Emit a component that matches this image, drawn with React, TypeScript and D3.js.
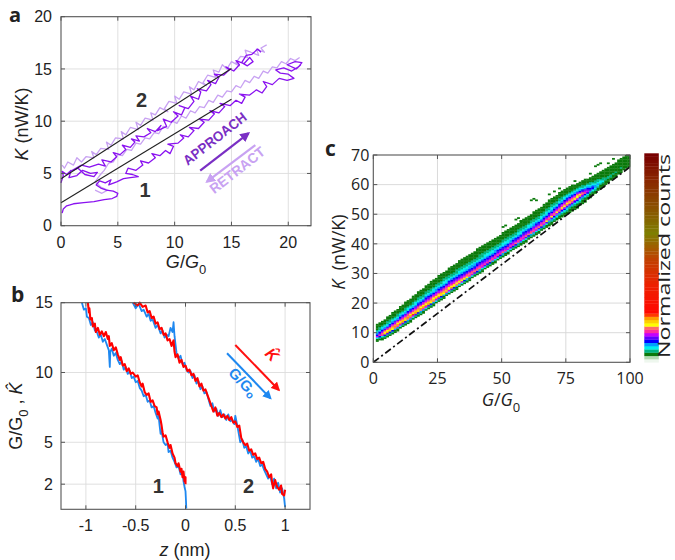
import React, { useRef, useEffect } from 'react';
import * as d3 from 'd3';

type Pt = [number, number];

// ---------- panel a : K vs G/G0, two junctions ----------
const aTicksX = [0, 5, 10, 15, 20];
const aTicksY = [0, 5, 10, 15, 20];
const aFitG = [0, 15];
const aFit1 = [2.2, 12.1];
const aFit2 = [4.5, 15.05];

const a2Approach: Pt[] = [
  [0.0, 4.1], [0.2, 4.8], [0.1, 5.2], [0.5, 4.9], [0.9, 5.3], [0.7, 4.6], [1.4, 4.8], [1.9, 5.3],
  [2.6, 5.0], [3.2, 5.1], [2.9, 4.7], [2.1, 4.9], [1.5, 5.5], [1.0, 5.3], [1.8, 5.8], [2.5, 5.6],
  [3.3, 5.9], [3.9, 5.7], [3.6, 6.3], [4.4, 6.1], [4.9, 6.6], [4.6, 7.0], [5.2, 6.8], [5.7, 7.3],
  [5.4, 7.7], [6.1, 7.5], [6.5, 8.0], [6.2, 8.3], [6.9, 8.1], [6.6, 8.6], [7.3, 8.5], [7.9, 8.9],
  [7.6, 9.3], [8.3, 9.0], [8.8, 9.6], [8.5, 9.1], [9.3, 9.5], [9.0, 10.2], [9.7, 9.9], [10.3, 10.5],
  [9.9, 10.9], [10.6, 10.6], [10.9, 11.3], [10.4, 11.5], [11.2, 11.2], [11.7, 11.9], [11.4, 12.4],
  [12.1, 12.1], [12.3, 12.8], [12.0, 13.1], [12.8, 12.9], [13.2, 13.5], [12.9, 13.9], [13.6, 13.6],
  [13.9, 14.2], [13.5, 14.5], [14.3, 14.4], [14.8, 14.9], [14.5, 15.2], [15.2, 14.8], [15.7, 15.4],
  [15.4, 15.8], [16.1, 15.5], [16.6, 16.1], [16.9, 15.7], [16.4, 15.3], [15.9, 15.6], [16.3, 16.3],
  [16.8, 16.4], [17.3, 16.9], [17.6, 16.6],
];
const a2Retract: Pt[] = [
  [18.1, 17.3], [17.6, 17.0], [17.9, 16.6], [17.2, 16.9], [17.4, 16.3], [16.7, 16.6], [16.2, 16.8],
  [16.4, 16.1], [15.8, 16.2], [15.4, 15.6], [15.7, 15.3], [15.0, 15.7], [14.6, 15.0], [14.2, 15.4],
  [13.9, 14.7], [13.4, 14.9], [13.6, 14.2], [12.9, 14.4], [12.5, 13.7], [12.8, 13.4], [12.1, 13.8],
  [11.7, 13.0], [11.3, 13.3], [11.5, 12.6], [10.8, 12.8], [10.4, 12.1], [10.0, 12.4], [10.2, 11.7],
  [9.5, 11.9], [9.1, 11.2], [9.4, 10.9], [8.7, 11.3], [8.3, 10.6], [7.9, 10.8], [8.1, 10.1],
  [7.4, 10.3], [7.0, 9.6], [6.6, 9.9], [6.8, 9.2], [6.1, 9.4], [5.7, 8.7], [5.3, 9.0], [5.5, 8.3],
  [4.8, 8.4], [4.4, 7.7], [4.0, 8.0], [4.2, 7.3], [3.5, 7.4], [3.1, 6.8], [2.7, 7.1], [2.9, 6.5],
  [2.2, 6.6], [1.8, 6.1], [1.4, 6.5], [1.1, 5.8], [0.6, 6.1], [0.3, 5.5], [0.1, 5.8],
];
const a1Approach: Pt[] = [
  [0.1, 1.2], [0.2, 1.6], [0.5, 1.9], [1.1, 2.1], [2.0, 2.2], [2.9, 2.3], [3.8, 2.5], [4.5, 2.6],
  [4.9, 2.8], [5.0, 3.1], [4.6, 3.3], [4.0, 3.4], [3.5, 3.6], [3.1, 3.9], [3.4, 4.3], [3.9, 4.1],
  [4.4, 4.4], [4.2, 3.9], [4.9, 4.2], [5.5, 4.5], [6.1, 4.6], [6.8, 4.7], [6.3, 4.9], [5.7, 5.0],
  [5.9, 5.5], [6.6, 5.3], [7.2, 5.8], [7.0, 6.2], [7.7, 6.0], [8.3, 6.5], [8.0, 6.9], [8.7, 6.7],
  [9.2, 7.2], [9.6, 6.9], [9.9, 7.6], [9.4, 7.8], [10.3, 7.9], [10.8, 8.4], [10.5, 8.7], [11.2, 8.5],
  [11.7, 9.1], [11.3, 9.4], [12.1, 9.3], [12.6, 9.9], [12.2, 10.2], [13.0, 10.1], [13.5, 10.7],
  [13.1, 11.0], [13.9, 10.8], [14.4, 11.4], [14.0, 11.7], [14.9, 11.5], [15.4, 12.0], [15.9, 11.7],
  [16.2, 12.3], [15.7, 12.6], [16.6, 12.5], [17.2, 13.0], [17.7, 12.7], [18.1, 13.3], [17.8, 13.8],
  [18.6, 13.5], [19.2, 14.1], [19.9, 13.9], [20.5, 14.1], [20.0, 14.5], [19.3, 14.6], [18.9, 14.9],
  [19.6, 15.1], [20.3, 14.8], [20.9, 15.2], [21.2, 15.6], [20.6, 15.7], [19.9, 15.4], [20.7, 15.0],
  [21.1, 15.4],
];
const a1Retract: Pt[] = [
  [21.0, 16.1], [20.6, 15.8], [20.2, 16.0], [19.8, 15.5], [19.4, 15.7], [19.0, 15.1], [18.6, 15.2],
  [18.2, 14.6], [17.8, 14.8], [17.4, 14.1], [17.0, 14.3], [16.6, 13.7], [16.2, 13.9], [15.8, 13.2],
  [15.4, 13.4], [15.0, 12.8], [14.6, 12.9], [14.2, 12.3], [13.8, 12.5], [13.4, 11.8], [13.0, 12.0],
  [12.6, 11.3], [12.2, 11.4], [11.8, 10.8], [11.4, 11.0], [11.0, 10.3], [10.6, 10.5], [10.2, 9.8],
  [9.8, 10.0], [9.4, 9.3], [9.0, 9.5], [8.6, 8.8], [8.2, 8.9], [7.8, 8.3], [7.4, 8.4], [7.0, 7.8],
  [6.6, 7.9], [6.2, 7.2], [5.8, 7.3], [5.4, 6.7], [5.0, 6.8], [4.6, 6.1], [4.2, 6.0], [3.8, 5.3],
  [3.4, 4.8], [3.0, 4.2], [3.5, 3.7], [4.1, 3.4], [3.6, 3.1], [3.0, 3.4],
];
// arrows and text positions in data units [G, K]
const aApproachArrow: Pt[] = [[12.25, 5.26], [16.5, 8.84]];
const aRetractArrow: Pt[] = [[17.1, 7.72], [12.84, 4.21]];
const aApproachText: Pt = [13.8, 7.96];
const aRetractText: Pt = [15.77, 4.95];
const aLabel1: Pt = [7.4, 2.75];
const aLabel2: Pt = [7.1, 11.4];

// ---------- panel b : G/G0 and K^ vs z ----------
const bTicksX = [-1, -0.5, 0, 0.5, 1];
const bTicksY = [2, 5, 10, 15];
const b1Blue: Pt[] = [
  [-1.04, 15.0], [-1.02, 14.5], [-1.0, 14.6], [-0.99, 14.0], [-0.97, 13.9], [-0.95, 13.4], [-0.93, 13.6],
  [-0.91, 13.0], [-0.89, 12.9], [-0.87, 12.5], [-0.85, 12.7], [-0.83, 12.2], [-0.81, 12.4], [-0.79, 12.0],
  [-0.77, 11.6], [-0.76, 10.4], [-0.755, 11.5], [-0.74, 11.7], [-0.72, 11.2], [-0.7, 11.4], [-0.68, 10.9],
  [-0.66, 10.6], [-0.64, 10.8], [-0.62, 10.2], [-0.6, 10.4], [-0.58, 9.9], [-0.56, 10.1], [-0.54, 9.6],
  [-0.52, 9.7], [-0.5, 9.3], [-0.48, 9.4], [-0.46, 8.9], [-0.44, 8.7], [-0.42, 8.3], [-0.4, 8.4],
  [-0.38, 7.9], [-0.36, 8.0], [-0.34, 7.5], [-0.32, 7.6], [-0.3, 7.1], [-0.28, 6.7], [-0.27, 6.9],
  [-0.26, 6.2], [-0.25, 5.6], [-0.24, 5.8], [-0.22, 5.0], [-0.2, 4.8], [-0.18, 4.9], [-0.17, 4.3],
  [-0.15, 4.4], [-0.13, 3.9], [-0.11, 3.6], [-0.09, 3.2], [-0.07, 3.3], [-0.05, 2.7], [-0.03, 2.8],
  [-0.02, 2.2], [-0.01, 1.8], [0, 1.5], [0.005, 0.8], [0.008, 0.25],
];
const b1Red: Pt[] = [
  [-0.98, 15.0], [-0.97, 14.3], [-0.965, 14.6], [-0.955, 13.8], [-0.94, 13.9], [-0.93, 13.3], [-0.91, 13.5],
  [-0.9, 12.9], [-0.88, 13.2], [-0.86, 12.7], [-0.84, 12.95], [-0.82, 12.6], [-0.8, 12.9], [-0.78, 12.4],
  [-0.77, 12.6], [-0.76, 11.9], [-0.74, 12.1], [-0.72, 11.6], [-0.7, 11.8], [-0.68, 11.3], [-0.66, 10.9],
  [-0.65, 11.1], [-0.63, 10.5], [-0.61, 10.6], [-0.59, 10.1], [-0.57, 10.3], [-0.55, 9.9], [-0.53, 10.0],
  [-0.5, 9.7], [-0.48, 9.8], [-0.46, 9.3], [-0.44, 9.0], [-0.43, 9.2], [-0.41, 8.6], [-0.39, 8.4],
  [-0.37, 8.5], [-0.35, 7.9], [-0.33, 8.0], [-0.31, 7.6], [-0.29, 7.5], [-0.28, 7.0], [-0.27, 7.2],
  [-0.25, 6.6], [-0.24, 6.2], [-0.23, 5.7], [-0.22, 5.4], [-0.2, 5.5], [-0.18, 5.0], [-0.16, 4.6],
  [-0.15, 4.8], [-0.13, 4.2], [-0.11, 3.9], [-0.1, 3.5], [-0.08, 3.3], [-0.07, 3.5], [-0.05, 2.9],
  [-0.04, 3.1], [-0.03, 2.5], [-0.02, 2.9], [-0.01, 2.2], [0, 2.5], [0, 2.0],
];
const b2Blue: Pt[] = [
  [-0.53, 15.0], [-0.5, 14.6], [-0.47, 14.9], [-0.44, 14.4], [-0.42, 14.5], [-0.39, 14.0], [-0.37, 14.2],
  [-0.35, 13.7], [-0.33, 13.8], [-0.3, 13.2], [-0.28, 13.4], [-0.25, 12.8], [-0.23, 13.0], [-0.21, 12.5],
  [-0.19, 12.7], [-0.17, 12.6], [-0.15, 13.2], [-0.13, 12.9], [-0.12, 13.6], [-0.11, 12.6], [-0.1, 12.0],
  [-0.09, 11.4], [-0.07, 11.0], [-0.05, 11.2], [-0.03, 10.6], [-0.01, 10.7], [0.01, 10.2], [0.03, 10.0],
  [0.05, 10.1], [0.07, 9.6], [0.09, 9.8], [0.11, 9.2], [0.13, 9.4], [0.15, 8.8], [0.17, 9.0], [0.19, 8.5],
  [0.21, 8.6], [0.23, 8.1], [0.25, 7.6], [0.27, 7.8], [0.29, 7.2], [0.31, 7.4], [0.33, 6.9], [0.35, 7.3],
  [0.37, 6.8], [0.39, 7.0], [0.41, 6.6], [0.43, 7.0], [0.45, 6.5], [0.47, 6.6], [0.49, 6.3], [0.5, 6.9],
  [0.52, 6.2], [0.53, 5.8], [0.55, 5.0], [0.57, 5.2], [0.59, 4.6], [0.61, 4.7], [0.63, 4.2], [0.65, 4.4],
  [0.67, 3.9], [0.69, 4.0], [0.71, 3.6], [0.73, 3.8], [0.75, 3.3], [0.77, 3.4], [0.79, 3.0], [0.81, 2.7],
  [0.83, 2.4], [0.85, 2.6], [0.87, 2.0], [0.89, 2.4], [0.91, 1.7], [0.93, 2.1], [0.95, 1.4], [0.97, 1.7],
  [0.99, 1.0], [1.0, 0.35],
];
const b2Red: Pt[] = [
  [-0.52, 15.0], [-0.48, 14.8], [-0.46, 15.0], [-0.43, 14.7], [-0.4, 14.8], [-0.38, 14.3], [-0.36, 14.4],
  [-0.34, 13.9], [-0.32, 14.0], [-0.3, 13.5], [-0.28, 13.6], [-0.26, 13.1], [-0.24, 13.2], [-0.22, 12.7],
  [-0.2, 12.8], [-0.18, 12.3], [-0.16, 12.4], [-0.14, 11.9], [-0.12, 12.3], [-0.11, 11.5], [-0.1, 11.1],
  [-0.08, 11.3], [-0.06, 10.7], [-0.04, 10.9], [-0.02, 10.4], [0, 10.5], [0.02, 10.1], [0.04, 10.2],
  [0.06, 9.8], [0.08, 9.9], [0.1, 9.4], [0.12, 9.6], [0.14, 9.0], [0.16, 9.2], [0.18, 8.7], [0.2, 8.8],
  [0.22, 8.4], [0.24, 8.0], [0.26, 7.6], [0.28, 7.2], [0.3, 7.5], [0.32, 6.9], [0.34, 7.1], [0.36, 6.8],
  [0.38, 7.0], [0.4, 6.7], [0.42, 6.9], [0.44, 6.6], [0.46, 6.8], [0.48, 6.4], [0.5, 6.5], [0.52, 6.1],
  [0.54, 6.2], [0.56, 5.3], [0.58, 5.0], [0.6, 4.8], [0.62, 4.9], [0.64, 4.4], [0.66, 4.5], [0.68, 4.1],
  [0.7, 4.2], [0.72, 3.8], [0.74, 3.9], [0.76, 3.5], [0.78, 3.6], [0.8, 3.1], [0.82, 2.9], [0.84, 2.5],
  [0.86, 2.7], [0.87, 2.1], [0.88, 1.7], [0.9, 2.3], [0.92, 1.8], [0.94, 1.6], [0.96, 1.9], [0.97, 1.3],
  [0.99, 1.2], [1.0, 1.6],
];
const bRedArrow: Pt[] = [[0.5, 11.97], [0.937, 8.75]];
const bBlueArrow: Pt[] = [[0.417, 11.38], [0.853, 8.15]];
const bKText: Pt = [0.83, 11.0];
const bGText: Pt = [0.54, 9.03];
const bLabel1: Pt = [-0.273, 1.37];
const bLabel2: Pt = [0.634, 1.37];

// ---------- panel c : 2D histogram of K vs G/G0 ----------
const cTicksX = [0, 25, 50, 75, 100];
const cTicksY = [0, 10, 20, 30, 40, 50, 60, 70];
const cColG = [1, 5, 10, 15, 20, 25, 30, 35, 40, 45, 50, 55, 60, 65, 70, 75, 80, 85, 90, 95, 99];
const cColLow = [7.0, 8.2, 11.0, 14.0, 17.0, 20.2, 23.2, 26.2, 29.2, 32.2, 35.3, 38.2, 41.0, 44.0, 47.0, 49.8, 52.5, 56.0, 59.6, 63.0, 66.0];
const cColRidge = [8.6, 10.0, 12.9, 15.9, 18.9, 21.9, 24.9, 27.9, 30.9, 33.9, 36.9, 39.9, 42.9, 45.9, 49.6, 53.2, 56.3, 58.6, 61.5, 64.5, 67.5];
const cColHigh = [12.5, 15.0, 18.5, 22.0, 25.6, 29.0, 32.2, 35.2, 38.0, 40.8, 43.5, 46.3, 49.3, 52.3, 55.8, 58.8, 60.8, 62.8, 65.2, 68.0, 70.0];
const cColPeak = [0.12, 0.225, 0.22, 0.225, 0.22, 0.215, 0.21, 0.19, 0.17, 0.16, 0.16, 0.16, 0.165, 0.17, 0.18, 0.195, 0.2, 0.12, 0.06, 0.05, 0.045];
const cStray: Pt[] = [
  [50, 45.5], [51, 46.0], [55, 48.0], [56, 48.5], [57, 47.5], [61, 54.5], [62, 55.0], [63, 54.5],
  [68, 56.5], [70, 57.5], [72, 58.5], [78, 61.0], [84, 63.5], [86, 66.0], [87, 66.5], [88, 67.0],
  [91, 67.0], [93, 68.5],
];
const cDiagG = [0, 100];
const cDiagK = [0, 66];
const cmapLow = [
  '#eef7ee', '#b2dab2', '#0b7a0b', '#00b482', '#00eeee', '#00a0ff', '#0000ff', '#6000ff',
  '#c400ff', '#ff2ca0', '#ff6a6a', '#ffff00', '#ffd000', '#ff9c00', '#ff3a00',
];
const cmapHighStops = ['#ff0800', '#ee2000', '#c04000', '#7e7e00', '#8a5000', '#8a2800', '#780000'];

const SANS = '"Liberation Sans", Arial, sans-serif';
const OPEN = '"Open Sans", "Noto Sans", sans-serif';

type G = d3.Selection<SVGGElement, unknown, null, undefined>;
type Lin = d3.ScaleLinear<number, number>;

function grid(g: G, x: Lin, y: Lin, xt: number[], yt: number[], color: string) {
  const [xa, xb] = x.range();
  const [ya, yb] = y.range();
  g.append('g').selectAll('line').data(xt.filter(v => x(v) > xa + 1 && x(v) < xb - 1)).join('line')
    .attr('x1', d => x(d)).attr('x2', d => x(d)).attr('y1', ya).attr('y2', yb)
    .attr('stroke', color).attr('stroke-width', 0.9);
  g.append('g').selectAll('line').data(yt.filter(v => y(v) < ya - 1 && y(v) > yb + 1)).join('line')
    .attr('y1', d => y(d)).attr('y2', d => y(d)).attr('x1', xa).attr('x2', xb)
    .attr('stroke', color).attr('stroke-width', 0.9);
}

function box(g: G, x: Lin, y: Lin, xt: number[], yt: number[], font: string, size: number,
  xOff: number, yOff: number, color: string) {
  const [xa, xb] = x.range();
  const [ya, yb] = y.range();
  const tl = 4;
  g.append('rect').attr('x', xa).attr('y', yb).attr('width', xb - xa).attr('height', ya - yb)
    .attr('fill', 'none').attr('stroke', color).attr('stroke-width', 1.1);
  const tk = g.append('g').attr('stroke', color).attr('stroke-width', 1);
  xt.forEach(v => {
    tk.append('line').attr('x1', x(v)).attr('x2', x(v)).attr('y1', ya).attr('y2', ya - tl);
    tk.append('line').attr('x1', x(v)).attr('x2', x(v)).attr('y1', yb).attr('y2', yb + tl);
  });
  yt.forEach(v => {
    tk.append('line').attr('y1', y(v)).attr('y2', y(v)).attr('x1', xa).attr('x2', xa + tl);
    tk.append('line').attr('y1', y(v)).attr('y2', y(v)).attr('x1', xb).attr('x2', xb - tl);
  });
  g.append('g').selectAll('text').data(xt).join('text')
    .attr('x', d => x(d)).attr('y', ya + xOff).attr('text-anchor', 'middle')
    .attr('font-family', font).attr('font-size', size).attr('fill', '#222').text(d => String(d));
  g.append('g').selectAll('text').data(yt).join('text')
    .attr('x', xa - yOff).attr('y', d => y(d)).attr('dy', '0.36em').attr('text-anchor', 'end')
    .attr('font-family', font).attr('font-size', size).attr('fill', '#222').text(d => String(d));
}

function App() {
  const svgRef = useRef<SVGSVGElement | null>(null);

  useEffect(() => {
    if (!svgRef.current) return;
    const svg = d3.select(svgRef.current);
    svg.selectAll('*').remove();

    const defs = svg.append('defs');
    const marker = (id: string, color: string) => {
      defs.append('marker').attr('id', id).attr('viewBox', '0 0 10 10').attr('refX', 8).attr('refY', 5)
        .attr('markerWidth', 4.5).attr('markerHeight', 4.5).attr('orient', 'auto')
        .append('path').attr('d', 'M0,0 L10,5 L0,10 z').attr('fill', color);
    };
    const cApproach = '#7a2fc4';
    const cRetract = '#c8a2f2';
    marker('mApp', cApproach);
    marker('mRet', cRetract);
    marker('mRed', '#ff1010');
    marker('mBlue', '#1e88f0');

    // ================= panel a =================
    const ax = d3.scaleLinear().domain([0, 22]).range([61, 311]);
    const ay = d3.scaleLinear().domain([0, 20]).range([225.7, 16.7]);
    const ga = svg.append('g');
    grid(ga, ax, ay, aTicksX, aTicksY, '#dcdcdc');
    const aLine = d3.line<Pt>().x(d => ax(d[0])).y(d => ay(d[1]));
    const traces: [Pt[], string][] = [
      [a1Retract, cRetract], [a2Retract, cRetract], [a1Approach, '#8a12f0'], [a2Approach, '#8a12f0'],
    ];
    traces.forEach(([d, c]) => {
      ga.append('path').datum(d).attr('d', aLine).attr('fill', 'none').attr('stroke', c)
        .attr('stroke-width', 1.3).attr('stroke-linejoin', 'round');
    });
    [aFit1, aFit2].forEach(k => {
      ga.append('line').attr('x1', ax(aFitG[0])).attr('x2', ax(aFitG[1]))
        .attr('y1', ay(k[0])).attr('y2', ay(k[1])).attr('stroke', '#222').attr('stroke-width', 1.1);
    });
    box(ga, ax, ay, aTicksX, aTicksY, SANS, 16, 22, 9, '#555');

    const arrow = (g: G, sx: Lin, sy: Lin, p: Pt[], color: string, m: string, w: number) => {
      g.append('line').attr('x1', sx(p[0][0])).attr('y1', sy(p[0][1]))
        .attr('x2', sx(p[1][0])).attr('y2', sy(p[1][1]))
        .attr('stroke', color).attr('stroke-width', w).attr('marker-end', `url(#${m})`);
    };
    arrow(ga, ax, ay, aApproachArrow, cApproach, 'mApp', 2.2);
    arrow(ga, ax, ay, aRetractArrow, cRetract, 'mRet', 2.2);
    ga.append('text').attr('transform', `translate(${ax(aApproachText[0])},${ay(aApproachText[1])}) rotate(-38)`)
      .attr('text-anchor', 'middle').attr('font-family', SANS).attr('font-weight', 700).attr('font-size', 14)
      .attr('textLength', 76).attr('lengthAdjust', 'spacingAndGlyphs')
      .attr('fill', cApproach).text('APPROACH');
    ga.append('text').attr('transform', `translate(${ax(aRetractText[0])},${ay(aRetractText[1])}) rotate(-38)`)
      .attr('text-anchor', 'middle').attr('font-family', SANS).attr('font-weight', 700).attr('font-size', 14)
      .attr('textLength', 66).attr('lengthAdjust', 'spacingAndGlyphs')
      .attr('fill', cRetract).text('RETRACT');
    [[aLabel1, '1'], [aLabel2, '2']].forEach(([p, t]) => {
      const q = p as Pt;
      ga.append('text').attr('x', ax(q[0])).attr('y', ay(q[1])).attr('text-anchor', 'middle')
        .attr('font-family', SANS).attr('font-weight', 700).attr('font-size', 20).attr('fill', '#333').text(t as string);
    });
    // axis labels a
    const axl = ga.append('text').attr('x', 186).attr('y', 268).attr('text-anchor', 'middle')
      .attr('font-family', SANS).attr('font-size', 18).attr('fill', '#222');
    axl.append('tspan').attr('font-style', 'italic').text('G');
    axl.append('tspan').text('/');
    axl.append('tspan').attr('font-style', 'italic').text('G');
    axl.append('tspan').attr('dy', 6).attr('font-size', 13).text('0');
    const ayl = ga.append('text').attr('transform', 'translate(28,124) rotate(-90)').attr('text-anchor', 'middle')
      .attr('font-family', SANS).attr('font-size', 18).attr('fill', '#222');
    ayl.append('tspan').attr('font-style', 'italic').text('K');
    ayl.append('tspan').text(' (nW/K)');

    // ================= panel b =================
    const bx = d3.scaleLinear().domain([-1.25, 1.25]).range([61, 310]);
    const by = d3.scaleLinear().domain([0.2, 15]).range([509.3, 302.7]);
    const gb = svg.append('g');
    grid(gb, bx, by, bTicksX, bTicksY, '#dcdcdc');
    const bLine = d3.line<Pt>().x(d => bx(d[0])).y(d => by(d[1]));
    [[b1Blue, '#1e88f0', 1.8], [b2Blue, '#1e88f0', 1.8], [b1Red, '#ff0000', 2.1], [b2Red, '#ff0000', 2.1]]
      .forEach(([d, c, w]) => {
        gb.append('path').datum(d as Pt[]).attr('d', bLine).attr('fill', 'none').attr('stroke', c as string)
          .attr('stroke-width', w as number).attr('stroke-linejoin', 'round');
      });
    box(gb, bx, by, bTicksX, bTicksY, SANS, 16, 22, 8, '#555');
    arrow(gb, bx, by, bRedArrow, '#ff1010', 'mRed', 2);
    arrow(gb, bx, by, bBlueArrow, '#1e88f0', 'mBlue', 2);
    const kt = gb.append('text').attr('transform', `translate(${bx(bKText[0])},${by(bKText[1])}) rotate(45)`)
      .attr('text-anchor', 'middle').attr('font-family', SANS).attr('font-weight', 700).attr('font-size', 16)
      .attr('fill', '#ff1010');
    kt.append('tspan').attr('font-style', 'italic').text('K\u0302');
    const gt = gb.append('text').attr('transform', `translate(${bx(bGText[0])},${by(bGText[1])}) rotate(47)`)
      .attr('text-anchor', 'middle').attr('font-family', SANS).attr('font-weight', 700).attr('font-size', 15)
      .attr('fill', '#1e88f0');
    gt.append('tspan').text('G/G');
    gt.append('tspan').attr('font-size', 11).attr('dy', 2).text('o');
    [[bLabel1, '1'], [bLabel2, '2']].forEach(([p, t]) => {
      const q = p as Pt;
      gb.append('text').attr('x', bx(q[0])).attr('y', by(q[1])).attr('text-anchor', 'middle')
        .attr('font-family', SANS).attr('font-weight', 700).attr('font-size', 20).attr('fill', '#333').text(t as string);
    });
    const bxl = gb.append('text').attr('x', 185).attr('y', 556).attr('text-anchor', 'middle')
      .attr('font-family', SANS).attr('font-size', 18).attr('fill', '#222');
    bxl.append('tspan').attr('font-style', 'italic').text('z');
    bxl.append('tspan').text(' (nm)');
    const byl = gb.append('text').attr('transform', 'translate(22,416) rotate(-90)').attr('text-anchor', 'middle')
      .attr('font-family', SANS).attr('font-size', 18).attr('fill', '#222');
    byl.append('tspan').text('G/G');
    byl.append('tspan').attr('dy', 6).attr('font-size', 13).text('0');
    byl.append('tspan').attr('dy', -6).text(' , ');
    byl.append('tspan').attr('font-style', 'italic').text('K\u0302');

    // ================= panel c =================
    const cx = d3.scaleLinear().domain([0, 100]).range([373.3, 630]);
    const cy = d3.scaleLinear().domain([0, 70]).range([362.3, 155]);
    const gc = svg.append('g');
    grid(gc, cx, cy, cTicksX, cTicksY, '#d6d6d6');
    const cmap = [...cmapLow, ...d3.quantize(d3.piecewise(d3.interpolateRgb, cmapHighStops), 49)];
    const colorOf = (v: number) => cmap[Math.max(0, Math.min(63, Math.floor(v * 64)))];
    const lowS = d3.scaleLinear(cColG, cColLow).clamp(true);
    const ridgeS = d3.scaleLinear(cColG, cColRidge).clamp(true);
    const highS = d3.scaleLinear(cColG, cColHigh).clamp(true);
    const peakS = d3.scaleLinear(cColG, cColPeak).clamp(true);
    const cells: { g: number; k: number; v: number }[] = [];
    for (let g0 = 1; g0 < 100; g0 += 1) {
      const gm = g0 + 0.5;
      const lo = lowS(gm), ri = ridgeS(gm), hi = highS(gm), pk = peakS(gm);
      for (let k0 = Math.floor(lo * 2) / 2; k0 < hi; k0 += 0.5) {
        const km = k0 + 0.25;
        if (km < lo || km > hi || km > 70) continue;
        const t = km < ri ? (ri - km) / (ri - lo) : (km - ri) / (hi - ri);
        const v = 0.035 + (pk - 0.035) * Math.pow(1 - Math.min(1, t), 2.4);
        cells.push({ g: g0, k: k0, v });
      }
    }
    cStray.forEach(([g0, k0]) => cells.push({ g: g0, k: k0, v: 0.04 }));
    gc.append('g').selectAll('rect').data(cells).join('rect')
      .attr('x', d => cx(d.g)).attr('y', d => cy(d.k + 0.5))
      .attr('width', cx(1) - cx(0) + 0.3).attr('height', cy(0) - cy(0.5) + 0.3)
      .attr('fill', d => colorOf(d.v));
    gc.append('line').attr('x1', cx(cDiagG[0])).attr('y1', cy(cDiagK[0]))
      .attr('x2', cx(cDiagG[1])).attr('y2', cy(cDiagK[1]))
      .attr('stroke', '#111').attr('stroke-width', 1.7).attr('stroke-dasharray', '7 3 2 3');
    box(gc, cx, cy, cTicksX, cTicksY, OPEN, 16, 22, 4, '#555');

    // colorbar
    const cb = d3.scaleLinear().domain([0, 64]).range([362.3, 153.3]);
    gc.append('g').selectAll('rect').data(cmap).join('rect')
      .attr('x', 644.3).attr('width', 14.5)
      .attr('y', (_, i) => cb(i + 1)).attr('height', cb(0) - cb(1) + 0.3)
      .attr('fill', d => d);
    gc.append('text').attr('transform', 'translate(670,256) rotate(-90)').attr('text-anchor', 'middle')
      .attr('font-family', OPEN).attr('font-size', 17).attr('textLength', 204)
      .attr('lengthAdjust', 'spacingAndGlyphs').attr('fill', '#222').text('Normalized counts');

    const cxl = gc.append('text').attr('x', 501).attr('y', 406).attr('text-anchor', 'middle')
      .attr('font-family', OPEN).attr('font-size', 18).attr('fill', '#222');
    cxl.append('tspan').attr('font-style', 'italic').text('G');
    cxl.append('tspan').text('/');
    cxl.append('tspan').attr('font-style', 'italic').text('G');
    cxl.append('tspan').attr('dy', 6).attr('font-size', 13).text('0');
    const cyl = gc.append('text').attr('transform', 'translate(345,252) rotate(-90)').attr('text-anchor', 'middle')
      .attr('font-family', OPEN).attr('font-size', 18).attr('fill', '#222');
    cyl.append('tspan').attr('font-style', 'italic').text('K');
    cyl.append('tspan').text('\u00a0 (nW/K)');

    // panel letters
    [['a', 9, 22, 20], ['b', 11, 302, 21], ['c', 325, 156, 21]].forEach(([t, x, y, s]) => {
      svg.append('text').attr('x', x as number).attr('y', y as number).attr('font-family', OPEN)
        .attr('font-weight', 700).attr('font-size', s as number).attr('fill', '#222').text(t as string);
    });
  }, []);

  return (
    <svg ref={svgRef} width={675} height={560}
      style={{ position: 'absolute', left: 0, top: 0, background: '#fff' }} />
  );
}

export default App;
